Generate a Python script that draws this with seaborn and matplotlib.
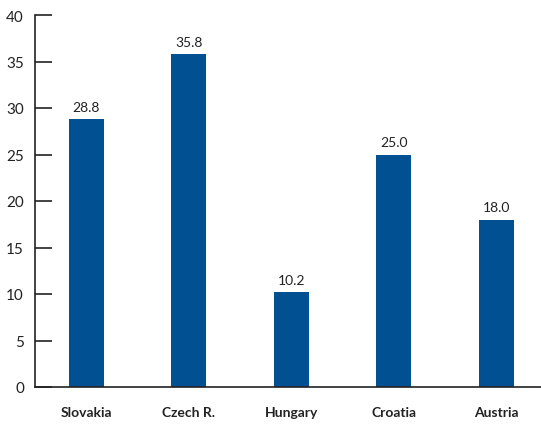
import matplotlib
matplotlib.use("Agg")
import matplotlib.pyplot as plt
import seaborn as sns
import pandas as pd

countries = ["Slovakia", "Czech R.", "Hungary", "Croatia", "Austria"]
values = [28.8, 35.8, 10.2, 25.0, 18.0]
yticks = [0, 5, 10, 15, 20, 25, 30, 35, 40]

sns.set_style("white")
plt.rcParams["font.family"] = ["Lato", "DejaVu Sans"]

df = pd.DataFrame({"country": countries, "value": values})

fig = plt.figure(figsize=(5.41, 4.27), dpi=100)
ax = fig.add_axes([35 / 541, 1 - 388 / 427, (547.75 - 35) / 541, (388 - 16) / 427])

sns.barplot(data=df, x="country", y="value", color="#005092", saturation=1,
            width=0.34, linewidth=0, ax=ax)

for i, v in enumerate(values):
    ax.text(i, v + 0.7, f"{v:.1f}", ha="center", va="bottom", fontsize=10, color="#222222")

ax.set_xlim(-0.5, 4.5)
ax.set_ylim(0, 40)
ax.set_yticks(yticks)
ax.set_xlabel("")
ax.set_ylabel("")
ax.tick_params(axis="y", left=True, direction="in", length=12, width=1.2, color="#222222",
               labelsize=11, pad=8, labelcolor="#222222")
ax.tick_params(axis="x", bottom=False, length=0, labelsize=10, pad=14, labelcolor="#222222")
for lbl in ax.get_xticklabels():
    lbl.set_fontweight("bold")
for side in ["top", "right"]:
    ax.spines[side].set_visible(False)
for side in ["left", "bottom"]:
    ax.spines[side].set_color("#222222")
    ax.spines[side].set_linewidth(1.2)

fig.savefig("out.png", dpi=100)
